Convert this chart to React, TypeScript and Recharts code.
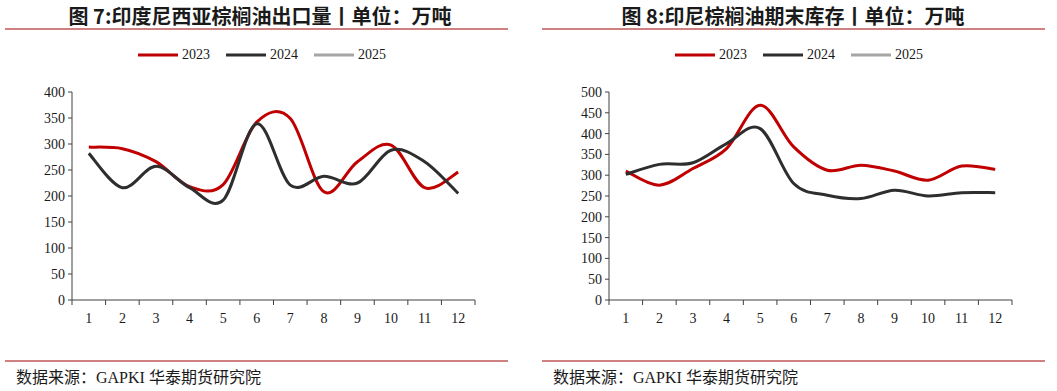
import React from 'react';
import { LineChart, Line, XAxis, YAxis, Legend } from 'recharts';

const months = [1, 2, 3, 4, 5, 6, 7, 8, 9, 10, 11, 12];
const xTicks = [0.5, 1, 1.5, 2, 2.5, 3, 3.5, 4, 4.5, 5, 5.5, 6, 6.5, 7, 7.5, 8, 8.5, 9, 9.5, 10, 10.5, 11, 11.5, 12, 12.5];

// 图7 印尼出口量
const export2023 = [294, 291, 266, 218, 222, 342, 349, 208, 266, 298, 216, 246];
const export2024 = [282, 216, 257, 216, 192, 339, 221, 238, 225, 288, 266, 205];
const export2025 = [null, null, null, null, null, null, null, null, null, null, null, null];
const exportTicks = [0, 50, 100, 150, 200, 250, 300, 350, 400];

// 图8 印尼期末库存
const stock2023 = [310, 276, 316, 364, 468, 368, 312, 324, 310, 288, 322, 314];
const stock2024 = [302, 326, 330, 376, 412, 280, 252, 244, 264, 250, 258, 258];
const stock2025 = [null, null, null, null, null, null, null, null, null, null, null, null];
const stockTicks = [0, 50, 100, 150, 200, 250, 300, 350, 400, 450, 500];

const RED = '#c00000';
const DARK = '#2e2e2e';
const GREY = '#a6a6a6';
const AXIS = '#404040';
const SERIF = '"Liberation Serif", "Noto Sans CJK SC", serif';
const CJK = '"Noto Sans CJK SC", sans-serif';

// excel-like smoothed line (catmull-rom through the points)
const smoothCurve = (context: any) => {
  let pts: number[][] = [];
  return {
    areaStart() {},
    areaEnd() {},
    lineStart() {
      pts = [];
    },
    point(x: number, y: number) {
      pts.push([+x, +y]);
    },
    lineEnd() {
      if (!pts.length) return;
      context.moveTo(pts[0][0], pts[0][1]);
      for (let i = 0; i < pts.length - 1; i++) {
        const p0 = pts[i - 1] || pts[i];
        const p1 = pts[i];
        const p2 = pts[i + 1];
        const p3 = pts[i + 2] || p2;
        context.bezierCurveTo(
          p1[0] + (p2[0] - p0[0]) / 6,
          p1[1] + (p2[1] - p0[1]) / 6,
          p2[0] - (p3[0] - p1[0]) / 6,
          p2[1] - (p3[1] - p1[1]) / 6,
          p2[0],
          p2[1]
        );
      }
    },
  };
};

const MonthTick = (props: any) => {
  const { x, y, payload } = props;
  const v = payload.value;
  if (Number.isInteger(v)) {
    return (
      <text x={x} y={y} dy={23} textAnchor="middle" fill="#1a1a1a" fontSize={14} fontFamily={SERIF}>
        {v}
      </text>
    );
  }
  return <line x1={x} x2={x} y1={y} y2={y + 5} stroke={AXIS} strokeWidth={1} />;
};

const ValueTick = (props: any) => {
  const { x, y, payload } = props;
  return (
    <text x={x} y={y} dy={5} textAnchor="end" fill="#1a1a1a" fontSize={14} fontFamily={SERIF}>
      {payload.value}
    </text>
  );
};

const LegendContent = (props: any) => {
  const { payload } = props;
  return (
    <div style={{ display: 'flex', alignItems: 'center', fontFamily: SERIF, fontSize: 14, color: '#1a1a1a' }}>
      {(payload || []).map((entry: any) => (
        <div key={entry.value} style={{ display: 'flex', alignItems: 'center', marginRight: 16 }}>
          <svg width={40} height={6} style={{ marginRight: 4 }}>
            <line x1={0} x2={40} y1={3} y2={3} stroke={entry.color} strokeWidth={3} />
          </svg>
          <span>{entry.value}</span>
        </div>
      ))}
    </div>
  );
};

interface PanelProps {
  left: number;
  title: string;
  titleShift: number;
  legendLeft: number;
  a: (number | null)[];
  b: (number | null)[];
  c: (number | null)[];
  yTicks: number[];
}

const Panel: React.FC<PanelProps> = ({ left, title, titleShift, legendLeft, a, b, c, yTicks }) => {
  const data = months.map((m, i) => ({ m, y2023: a[i], y2024: b[i], y2025: c[i] }));
  return (
    <div style={{ position: 'absolute', left, top: 0, width: 530, height: 391 }}>
      <div
        style={{
          position: 'absolute',
          left: titleShift,
          top: 4,
          width: 512,
          textAlign: 'center',
          fontFamily: CJK,
          fontWeight: 'bold',
          fontSize: 20,
          lineHeight: '24px',
          color: '#1a1a1a',
          whiteSpace: 'pre',
        }}
      >
        {title}
      </div>
      <div style={{ position: 'absolute', left: 5, top: 28, width: 503, height: 2, background: '#cf8080' }} />
      <div style={{ position: 'absolute', left: 5, top: 360, width: 503, height: 2, background: '#cf8080' }} />
      <div
        style={{
          position: 'absolute',
          left: 16,
          top: 368,
          fontFamily: SERIF,
          fontSize: 16,
          lineHeight: '19px',
          color: '#1a1a1a',
          whiteSpace: 'nowrap',
        }}
      >
        数据来源：GAPKI 华泰期货研究院
      </div>
      <div style={{ position: 'absolute', left: 0, top: 0 }}>
        <LineChart width={530} height={330} data={data} margin={{ top: 92, right: 55, bottom: 0, left: 0 }}>
          <XAxis
            dataKey="m"
            type="number"
            domain={[0.5, 12.5]}
            ticks={xTicks}
            interval={0}
            tick={<MonthTick />}
            tickLine={false}
            tickSize={0}
            tickMargin={0}
            height={30}
            axisLine={{ stroke: AXIS }}
          />
          <YAxis
            type="number"
            domain={[yTicks[0], yTicks[yTicks.length - 1]]}
            ticks={yTicks}
            interval={0}
            width={72}
            tickSize={4}
            tickMargin={3}
            axisLine={{ stroke: AXIS }}
            tickLine={{ stroke: AXIS }}
            tick={<ValueTick />}
          />
          <Legend
            verticalAlign="middle"
            content={<LegendContent />}
            wrapperStyle={{ left: legendLeft, top: 47, width: 300 }}
          />
          <Line dataKey="y2023" name="2023" type={smoothCurve as any} stroke={RED} strokeWidth={3} dot={false} isAnimationActive={false} />
          <Line dataKey="y2024" name="2024" type={smoothCurve as any} stroke={DARK} strokeWidth={3} dot={false} isAnimationActive={false} />
          <Line dataKey="y2025" name="2025" type={smoothCurve as any} stroke={GREY} strokeWidth={3} dot={false} isAnimationActive={false} />
        </LineChart>
      </div>
    </div>
  );
};

export default function App() {
  return (
    <div style={{ position: 'absolute', left: 0, top: 0, width: 1057, height: 391, background: '#fff', overflow: 'hidden' }}>
      <Panel
        left={0}
        title="图 7:印度尼西亚棕榈油出口量丨单位：万吨"
        titleShift={4}
        legendLeft={138}
        a={export2023}
        b={export2024}
        c={export2025}
        yTicks={exportTicks}
      />
      <Panel
        left={537}
        title="图 8:印尼棕榈油期末库存丨单位：万吨"
        titleShift={0}
        legendLeft={138}
        a={stock2023}
        b={stock2024}
        c={stock2025}
        yTicks={stockTicks}
      />
    </div>
  );
}
